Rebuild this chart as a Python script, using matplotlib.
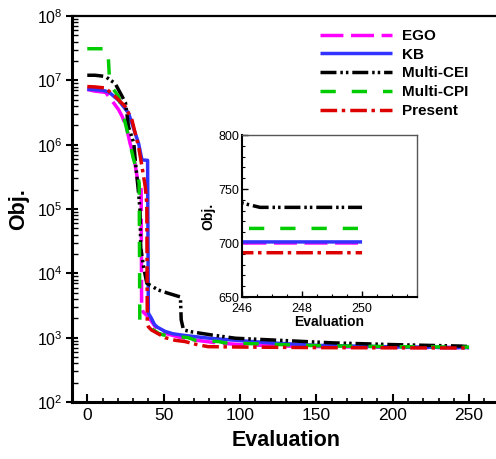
import matplotlib
matplotlib.use("Agg")
import matplotlib.pyplot as plt
from matplotlib.ticker import MultipleLocator, FixedLocator, NullFormatter, LogFormatterSciNotation

plt.rcParams['font.family'] = ['Liberation Sans', 'DejaVu Sans']
plt.rcParams['mathtext.fontset'] = 'custom'
plt.rcParams['mathtext.rm'] = 'Liberation Sans'
plt.rcParams['mathtext.it'] = 'Liberation Sans:italic'
plt.rcParams['mathtext.bf'] = 'Liberation Sans:bold'
plt.rcParams['lines.scale_dashes'] = False

# ---------------- data ----------------
labels = ["EGO", "KB", "Multi-CEI", "Multi-CPI", "Present"]

ego_x = [0, 5, 12, 16, 20.5, 23, 26, 28, 30.5, 31.5, 33, 35.3, 35.6, 36.6, 40, 44.5, 51, 60, 70, 85, 100, 130, 160, 200, 246, 250]
ego_y = [7.2e6, 6.8e6, 6.5e6, 4.9e6, 3.5e6, 2.7e6, 1.7e6, 1.05e6, 6.5e5, 4.6e5, 2.8e5, 2.0e5, 2.9e3, 2.5e3, 2.1e3, 1.48e3, 1.17e3, 1.02e3, 9.2e2, 8.3e2, 7.8e2, 7.4e2, 7.2e2, 7.07e2, 700, 700]

kb_x = [0, 10, 14, 20.5, 27, 31.4, 33.6, 35.8, 39.5, 40, 42, 44, 46, 51, 56, 64, 80, 97, 120, 150, 200, 246, 250]
kb_y = [7.3e6, 7.0e6, 6.6e6, 4.9e6, 3.1e6, 1.5e6, 1.05e6, 5.8e5, 5.7e5, 2.4e3, 2.0e3, 1.6e3, 1.45e3, 1.25e3, 1.15e3, 1.08e3, 9.8e2, 9.1e2, 8.3e2, 7.6e2, 7.2e2, 701, 701]

cei_x = [0, 5, 11.8, 18.3, 25, 27, 30.5, 31.4, 32.5, 33.6, 34.5, 35, 37, 39, 46.5, 53, 59.5, 61, 61.5, 63, 68.5, 81.6, 97, 130, 161, 200, 245, 246, 246.6, 250]
cei_y = [1.2e7, 1.2e7, 1.15e7, 8.9e6, 4.5e6, 1.9e6, 1.05e6, 5.8e5, 3.2e5, 1.75e5, 1.0e5, 2.5e4, 1.2e4, 7.0e3, 5.5e3, 4.9e3, 4.4e3, 4.3e3, 1.9e3, 1.32e3, 1.23e3, 1.1e3, 9.8e2, 9.0e2, 8.3e2, 7.8e2, 740, 737, 733, 733]

cpi_x = [0, 13.5, 14.4, 16, 20.5, 23.8, 26, 28, 30, 32.5, 34, 34.4, 36.6, 40, 46.5, 50, 66, 71, 86, 90, 120, 150, 200, 246, 250]
cpi_y = [3.1e7, 3.1e7, 1.2e7, 7.9e6, 5.6e6, 2.7e6, 1.7e6, 1.05e6, 6.3e5, 4.0e5, 2.5e5, 1.85e3, 1.78e3, 1.5e3, 1.17e3, 1.1e3, 1.0e3, 9.1e2, 8.7e2, 8.3e2, 7.9e2, 7.5e2, 7.25e2, 713.5, 713.5]

pre_x = [0, 5, 11.8, 18.3, 24.9, 29.3, 31.4, 33.6, 35.8, 38, 39, 39.3, 40, 42, 51, 57.6, 64, 71, 79, 100, 150, 200, 246, 250]
pre_y = [8.0e6, 7.9e6, 7.6e6, 5.6e6, 3.9e6, 2.4e6, 1.5e6, 9.3e5, 4.6e5, 2.2e5, 1.2e5, 1.66e3, 1.48e3, 1.32e3, 1.0e3, 9.1e2, 8.7e2, 7.9e2, 7.25e2, 7.15e2, 7.0e2, 6.95e2, 691, 691]

y_major = [1e2, 1e3, 1e4, 1e5, 1e6, 1e7, 1e8]

series = [(ego_x, ego_y), (kb_x, kb_y), (cei_x, cei_y), (cpi_x, cpi_y), (pre_x, pre_y)]
colors = ["#ff00ff", "#3333ff", "#000000", "#00cc00", "#dd0000"]
dashes = [(16.5, 5.5), None, (11.5, 2.8, 1.8, 2.2, 1.8, 2.8), (11, 11.5), (12, 3.3, 2.5, 3.6)]
LW = 2.5

W, H = 496, 459
fig = plt.figure(figsize=(W / 100, H / 100), dpi=100)

ax = fig.add_axes([72 / W, 1 - 402 / H, (499.6 - 72) / W, (402 - 16) / H])
handles = []
for (xs, ys), c, d, lab in zip(series, colors, dashes, labels):
    ln, = ax.plot(xs, ys, color=c, lw=LW, label=lab, solid_capstyle='butt', dash_capstyle='butt')
    if d is not None:
        ln.set_dashes(d)
    handles.append(ln)

ax.set_yscale('log')
ax.set_xlim(-10, 270)
ax.set_ylim(1e2, 1e8)
ax.xaxis.set_major_locator(MultipleLocator(50))
ax.xaxis.set_minor_locator(MultipleLocator(10))
ax.yaxis.set_major_locator(FixedLocator(y_major))
ax.yaxis.set_major_formatter(LogFormatterSciNotation())
minor = [m * 10 ** e for e in range(2, 8) for m in range(2, 10)]
ax.yaxis.set_minor_locator(FixedLocator(minor))
ax.yaxis.set_minor_formatter(NullFormatter())
ax.tick_params(axis='x', which='major', direction='in', length=5.5, width=1.5, labelsize=12.5, pad=4)
ax.tick_params(axis='x', which='minor', direction='in', length=3, width=1.2)
ax.tick_params(axis='y', which='major', direction='inout', length=9, width=1.5, labelsize=11.5, pad=2)
ax.tick_params(axis='y', which='minor', direction='in', length=4, width=1.0)
ax.spines['left'].set_linewidth(2.2)
ax.spines['bottom'].set_linewidth(2.2)
ax.spines['top'].set_linewidth(1.6)
ax.spines['right'].set_visible(False)
ax.set_xlabel("Evaluation", fontsize=15.5, fontweight='bold', labelpad=5)
ax.set_ylabel("Obj.", fontsize=15.5, fontweight='bold', labelpad=6)

fig.legend(handles=handles, labels=labels, loc='upper left',
           bbox_to_anchor=(320 / W, 1 - 29 / H), bbox_transform=fig.transFigure,
           frameon=False, borderpad=0, borderaxespad=0,
           handlelength=4.7, handletextpad=0.65, labelspacing=0.31,
           prop={'size': 11, 'weight': 'bold'})

# inset
ax2 = fig.add_axes([242 / W, 1 - 297 / H, 175 / W, 162 / H])
ax2.set_facecolor('white')
for (xs, ys), c, d in zip(series, colors, dashes):
    ln, = ax2.plot(xs, ys, color=c, lw=LW, solid_capstyle='butt', dash_capstyle='butt')
    if d is not None:
        ln.set_dashes(d)
ax2.set_xlim(246, 251.83)
ax2.set_ylim(650, 800)
ax2.xaxis.set_major_locator(MultipleLocator(2))
ax2.xaxis.set_minor_locator(MultipleLocator(0.5))
ax2.yaxis.set_major_locator(MultipleLocator(50))
ax2.yaxis.set_minor_locator(MultipleLocator(10))
ax2.tick_params(which='major', direction='in', length=4, width=1.0, labelsize=9, pad=2)
ax2.tick_params(axis='x', which='major', pad=4)
ax2.tick_params(which='minor', direction='in', length=2, width=0.8)
ax2.spines['left'].set_linewidth(1.5)
ax2.spines['bottom'].set_linewidth(1.5)
for s in ('top', 'right'):
    ax2.spines[s].set_linewidth(1.0)
    ax2.spines[s].set_color('#555555')
ax2.set_xlabel("Evaluation", fontsize=10, fontweight='bold', labelpad=0)
ax2.set_ylabel("Obj.", fontsize=10, fontweight='bold', labelpad=2)

fig.savefig("out.png", dpi=100)
